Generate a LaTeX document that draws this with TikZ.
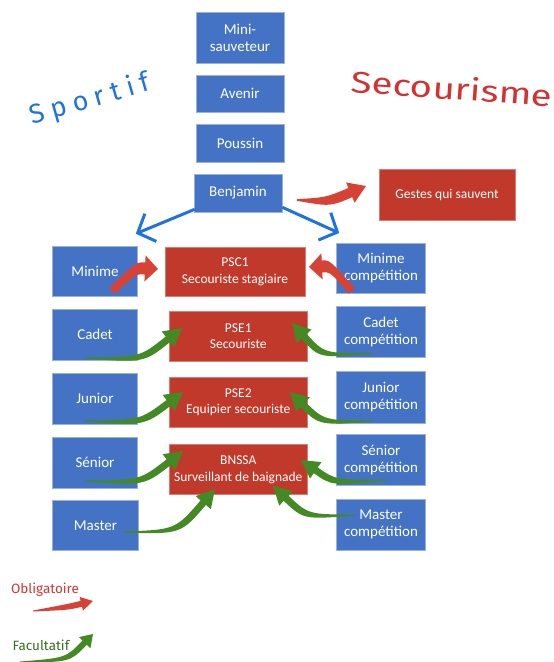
\documentclass[tikz,border=0pt]{standalone}
\usepackage{fontspec}
\newfontfamily\boxfont{Carlito}
\newfontfamily\hand{Fira Sans}
\newfontfamily\handsp{Fira Sans}[LetterSpace=25]
\usetikzlibrary{arrows.meta,calc}
\definecolor{boxblue}{RGB}{68,114,196}
\definecolor{boxred}{RGB}{192,57,43}
\definecolor{handblue}{RGB}{30,115,225}
\definecolor{handred}{RGB}{212,50,50}
\definecolor{arrred}{RGB}{214,66,52}
\definecolor{arrgreen}{RGB}{68,138,36}
\definecolor{txtgreen}{RGB}{52,112,30}
% tapered curved arrow: #1 colour, #2 tail, #3 control, #4 tip,
% #5 half tail width, #6 half body width, #7 half head width, #8 head length
\newcommand\swoosh[8]{%
  \coordinate (swH) at ($(#4)!#8!(#3)$);
  \fill[#1] ($(#2)!#5!90:(#3)$)
     .. controls ($(#3)!#6!90:(swH)$) .. ($(swH)!#6!90:(#4)$)
     -- ($(swH)!#7!90:(#4)$) -- (#4) -- ($(swH)!#7!-90:(#4)$)
     -- ($(swH)!#6!-90:(#4)$)
     .. controls ($(#3)!#6!-90:(swH)$) .. ($(#2)!#5!-90:(#3)$) -- cycle;
}
\begin{document}
\begin{tikzpicture}[x=1pt,y=-1pt,
  boxsize/.style 2 args={minimum width=#1, minimum height=#2},
  bluebox/.style={fill=boxblue, draw=boxblue!55!white, line width=0.6pt,
    text=white, align=center, inner sep=0pt,
    font=\boxfont\fontsize{15}{17}\selectfont},
  redbox/.style={fill=boxred, draw=boxred!65!white, line width=0.6pt,
    text=white, align=center, inner sep=0pt,
    font=\boxfont\fontsize{13.5}{16.5}\selectfont},
  fork/.style={handblue, line width=3pt, -{Straight Barb[length=14pt,width=30pt]}},
  greenarrow/.style={arrgreen},
  redarrow/.style={arrred}
]
\useasboundingbox (0,0) rectangle (554,662);

% titles
\node[text=handblue, rotate=16, inner sep=0pt, font=\handsp\fontsize{27}{27}\selectfont] (sportif) at (90,100) {Sportif};
\node[text=handred, rotate=-4, inner sep=0pt, font=\hand\fontsize{30}{30}\selectfont] (secour) at (452,88) {\scalebox{1.28}[1]{Secourisme}};

% sportif ladder
\node[bluebox, boxsize={88}{51}] (mini) at (240,37.5) {Mini-\\sauveteur};
\node[bluebox, boxsize={88}{37}] (avenir) at (240,93.5) {Avenir};
\node[bluebox, boxsize={88}{38}] (poussin) at (240,143) {Poussin};
\node[bluebox, boxsize={88}{38}] (benjamin) at (238,193) {Benjamin};
\node[redbox, boxsize={136}{51}] (gestes) at (447,194.5) {Gestes qui sauvent};

\node[bluebox, boxsize={85}{50}] (minime) at (95,271) {Minime};
\node[bluebox, boxsize={85}{51}] (cadet) at (95,334.7) {Cadet};
\node[bluebox, boxsize={85}{51}] (junior) at (95,398.7) {Junior};
\node[bluebox, boxsize={85}{51}] (senior) at (95,462.8) {Sénior};
\node[bluebox, boxsize={86}{50}] (master) at (95.5,525.5) {Master};

\node[redbox, boxsize={140}{49}] (psc1) at (235,272) {PSC1\\Secouriste stagiaire};
\node[redbox, boxsize={138}{50}] (pse1) at (238.3,336.2) {PSE1\\Secouriste};
\node[redbox, boxsize={138}{50}] (pse2) at (238.3,402.3) {PSE2\\Equipier secouriste};
\node[redbox, boxsize={138}{50}] (bnssa) at (238.3,469.7) {BNSSA\\Surveillant de baignade};

\node[bluebox, boxsize={89}{50}] (minimec) at (381,268.3) {Minime\\compétition};
\node[bluebox, boxsize={89}{51}] (cadetc) at (381,332.2) {Cadet\\compétition};
\node[bluebox, boxsize={89}{52}] (juniorc) at (381,397.5) {Junior\\compétition};
\node[bluebox, boxsize={89}{51}] (seniorc) at (381,460) {Sénior\\compétition};
\node[bluebox, boxsize={89}{51}] (masterc) at (381,524.3) {Master\\compétition};

% fork from Benjamin
\coordinate (forkL) at ($(minime.north east)+(-2,-12)$);
\coordinate (forkR) at ($(minimec.north west)+(3,-10)$);
\draw[fork] ($(benjamin.south west)+(1,-3)$) -- (forkL);
\draw[fork] ($(benjamin.south east)+(0,-5)$) -- (forkR);

% red (compulsory) arrows
\coordinate (bgT) at (297,200); \coordinate (bgC) at (328,202); \coordinate (bgP) at (366,186);
\swoosh{redarrow}{bgT}{bgC}{bgP}{0.8pt}{5pt}{11pt}{17pt}
\coordinate (miT) at (112,291); \coordinate (miC) at (136,268); \coordinate (miP) at (158,269);
\swoosh{redarrow}{miT}{miC}{miP}{4pt}{6pt}{13pt}{13pt}
\coordinate (mcT) at (352,291); \coordinate (mcC) at (330,266); \coordinate (mcP) at (309,267);
\swoosh{redarrow}{mcT}{mcC}{mcP}{4pt}{6pt}{13pt}{13pt}

% green (optional) arrows
\coordinate (caT) at (85,358);  \coordinate (caC) at (142,360); \coordinate (caP) at (182,328);
\swoosh{greenarrow}{caT}{caC}{caP}{0.5pt}{3.5pt}{10pt}{18pt}
\coordinate (ccT) at (373,353); \coordinate (ccC) at (322,356); \coordinate (ccP) at (292,323);
\swoosh{greenarrow}{ccT}{ccC}{ccP}{0.5pt}{3.5pt}{10pt}{18pt}
\coordinate (juT) at (85,421);  \coordinate (juC) at (142,423); \coordinate (juP) at (183,392);
\swoosh{greenarrow}{juT}{juC}{juP}{0.5pt}{3.5pt}{10pt}{18pt}
\coordinate (jcT) at (373,421); \coordinate (jcC) at (322,423); \coordinate (jcP) at (290,392);
\swoosh{greenarrow}{jcT}{jcC}{jcP}{0.5pt}{3.5pt}{10pt}{18pt}
\coordinate (seT) at (85,481);  \coordinate (seC) at (142,483); \coordinate (seP) at (183,451);
\swoosh{greenarrow}{seT}{seC}{seP}{0.5pt}{3.5pt}{10pt}{18pt}
\coordinate (scT) at (387,480); \coordinate (scC) at (334,483); \coordinate (scP) at (301,460);
\swoosh{greenarrow}{scT}{scC}{scP}{0.5pt}{3.5pt}{10pt}{18pt}
\coordinate (maT) at (123,532); \coordinate (maC) at (178,532); \coordinate (maP) at (215,489);
\swoosh{greenarrow}{maT}{maC}{maP}{0.5pt}{3.5pt}{10pt}{18pt}
\coordinate (mmT) at (355,515); \coordinate (mmC) at (306,517); \coordinate (mmP) at (273,486);
\swoosh{greenarrow}{mmT}{mmC}{mmP}{0.5pt}{3.5pt}{10pt}{18pt}

% legend
\node[text=handred, inner sep=0pt, font=\hand\fontsize{13.5}{13.5}\selectfont] (oblig) at (45,590) {Obligatoire};
\coordinate (loT) at (33,611); \coordinate (loC) at (68,607); \coordinate (loP) at (93,601);
\swoosh{redarrow}{loT}{loC}{loP}{0.5pt}{3pt}{7pt}{12pt}
\node[text=txtgreen, inner sep=0pt, font=\hand\fontsize{13.5}{13.5}\selectfont] (facul) at (41,645) {Facultatif};
\coordinate (lfT) at (20,662); \coordinate (lfC) at (68,660); \coordinate (lfP) at (93,634);
\swoosh{greenarrow}{lfT}{lfC}{lfP}{0.5pt}{3pt}{8pt}{12pt}
\end{tikzpicture}
\end{document}
